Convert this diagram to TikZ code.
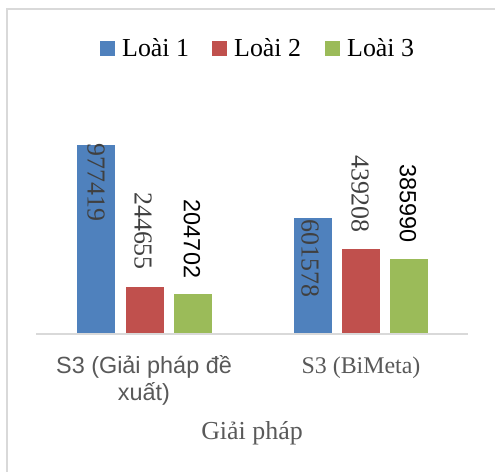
\documentclass[tikz,border=0pt]{standalone}
\usepackage{fontspec}
\setmainfont{Liberation Serif}
\setsansfont{Liberation Sans}
\definecolor{loaiA}{HTML}{4F81BD}
\definecolor{loaiB}{HTML}{C0504D}
\definecolor{loaiC}{HTML}{9BBB59}
\definecolor{lightgray}{HTML}{D9D9D9}
\definecolor{textgray}{HTML}{595959}
\definecolor{valgray}{HTML}{404040}

\begin{document}
\begin{tikzpicture}[x=1bp,y=-1bp,
  legtext/.style={anchor=base west,inner sep=0pt,font=\fontsize{26}{30}\selectfont},
  valserif/.style={rotate=-90,inner sep=0pt,text=valgray,font=\fontsize{26}{30}\selectfont},
  valsans/.style={rotate=-90,inner sep=0pt,font=\sffamily\fontsize{23.5}{28}\selectfont},
  catsans/.style={anchor=base,inner sep=0pt,align=center,text=textgray,font=\sffamily\fontsize{23.5}{27}\selectfont},
  catserif/.style={anchor=base,inner sep=0pt,text=textgray,font=\fontsize{24}{28}\selectfont}]
\useasboundingbox (0,0) rectangle (495,472);
\fill[white] (0,0) rectangle (495,472);
\draw[lightgray,line width=1.5bp] (7,472) -- (7,9) -- (495,9);
% legend
\foreach \x/\c/\n in {100/loaiA/1,212/loaiB/2,325/loaiC/3}
  {\fill[\c] (\x,41) rectangle ++(15,15);
  \node[legtext] (leg\n) at (\x+22,57) {Loài \n};}
% bars
\foreach \x/\v/\c in {77.3/977.419/loaiA,125.7/244.655/loaiB,173.7/204.702/loaiC,
                      294/601.578/loaiA,342/439.208/loaiB,390/385.990/loaiC}
  \fill[\c] (\x,334) rectangle ++(38,-\v*0.19337);
\draw[lightgray,line width=1.5bp] (36,334) -- (468,334);
% values
\node[valserif] (val1a) at (96,182.5) {977419};
\node[valserif] (val1b) at (143,231) {244655};
\node[valsans]  (val1c) at (192,239) {204702};
\node[valserif] (val2a) at (310,258.5) {601578};
\node[valserif] (val2b) at (360,194) {439208};
\node[valsans]  (val2c) at (408,203.5) {385990};
% categories
\node[catsans]  (cat1) at (144,400) {S3 (Giải pháp đề\\xuất)};
\node[catserif] (cat2) at (361,373) {S3 (BiMeta)};
\node[catserif,font=\fontsize{26}{30}\selectfont] (axtitle) at (252,439) {Giải pháp};
\end{tikzpicture}
\end{document}
